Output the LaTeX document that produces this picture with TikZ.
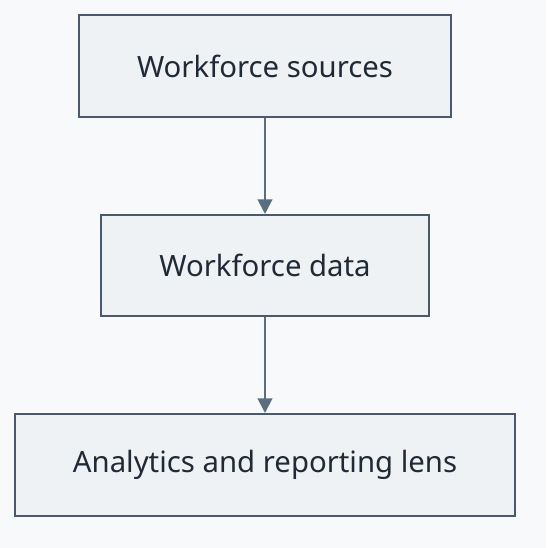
\documentclass[tikz,border=0pt]{standalone}
\usepackage{fontspec}
\setmainfont{Noto Sans}
\definecolor{pagebg}{HTML}{F8F9FB}
\definecolor{boxfill}{HTML}{EEF2F5}
\definecolor{boxline}{HTML}{4A5A6A}
\definecolor{arrowline}{HTML}{5A6E80}
\definecolor{labeltext}{HTML}{1F2A36}
\usetikzlibrary{arrows.meta}
\tikzset{
  stage/.style={draw=boxline, fill=boxfill, line width=1.5pt, text=labeltext,
    font=\fontsize{22}{26}\selectfont, inner sep=0pt, anchor=center},
  flow/.style={draw=arrowline, line width=1.5pt, -{Triangle[width=11pt,length=11pt]}}
}
\begin{document}
\begin{tikzpicture}[x=0.75pt,y=-0.75pt]
      \fill[pagebg] (0,0) rectangle (546,548);
      \useasboundingbox (0,0) rectangle (546,548);
      \draw
        (265,66) node[stage, minimum width=279pt, minimum height=76.5pt] (sources){Workforce sources}
        (265,265.5) node[stage, minimum width=246pt, minimum height=75.75pt] (data){Workforce data}
        (265,465) node[stage, minimum width=375pt, minimum height=76.5pt] (lens){Analytics and reporting lens};
      \begin{scope}[flow]
        \draw (sources) to (data);
        \draw (data) to (lens);
      \end{scope}
    \end{tikzpicture}
\end{document}
